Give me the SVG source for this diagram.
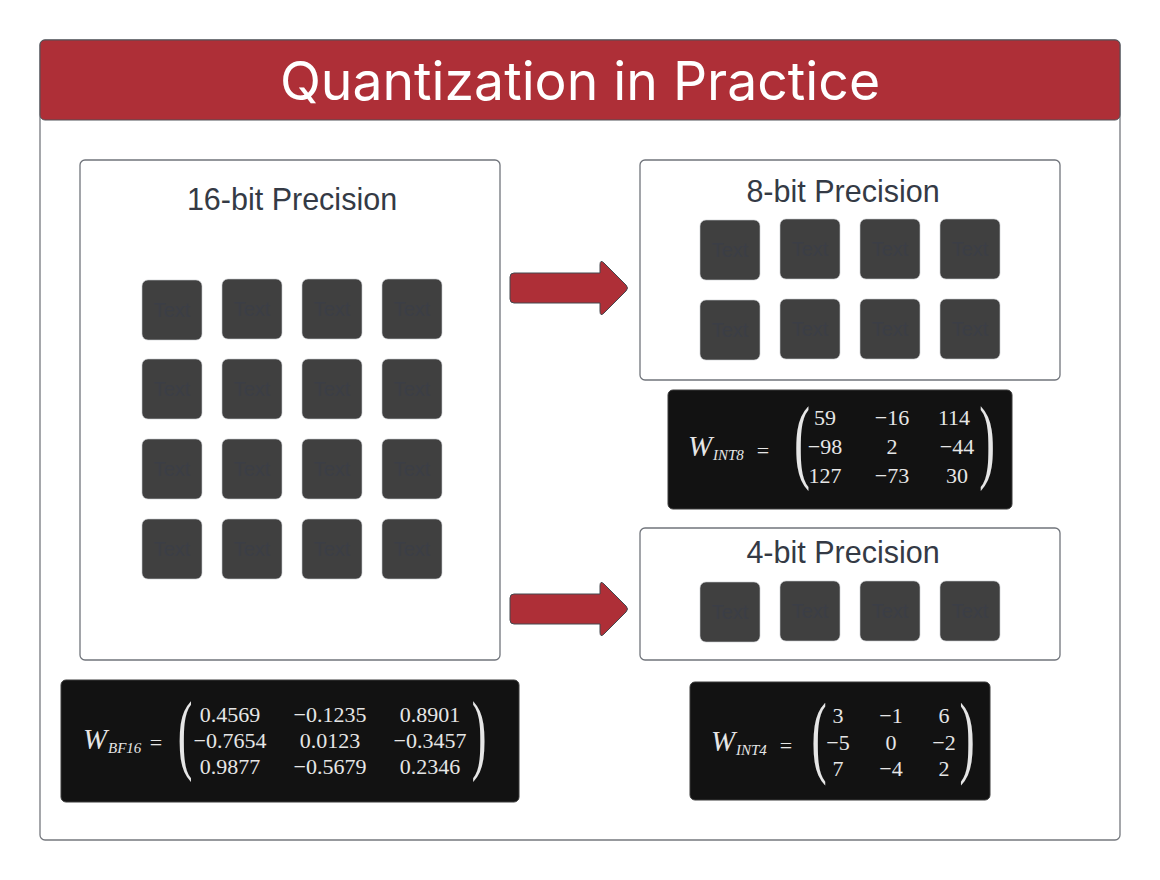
<svg xmlns="http://www.w3.org/2000/svg" width="1160" height="880" viewBox="0 0 1160 880">
<defs>
<style>
.frame{fill:#ffffff;stroke:#75787e;stroke-width:1.3}
.box{fill:#ffffff;stroke:#70747b;stroke-width:1.3}
.sq{fill:#404040;stroke:#c8cacd;stroke-width:0.6}
.sqt{font-family:"Liberation Sans",Arial,sans-serif;font-size:20px;fill:#3b3e46;text-anchor:middle}
.ttl{font-family:"Liberation Sans",Arial,sans-serif;font-size:30.5px;fill:#343a45;text-anchor:middle}
.mat{fill:#121212;stroke:#3a3a3a;stroke-width:1}
.m{font-family:"Liberation Serif","Times New Roman",serif;font-size:22px;fill:#e6e6e6;text-anchor:middle}
.mi{font-family:"Liberation Serif","Times New Roman",serif;font-style:italic;fill:#e6e6e6}
.par{font-family:"Liberation Serif","Times New Roman",serif;fill:#e6e6e6;text-anchor:middle}
.arr{fill:#ae2f37;stroke:#45484e;stroke-width:1}
</style>
<path id="arrowShape" d="M514 273 L600 273 L600 265 Q600 259 604 263 L626 285 Q629 288 626 291 L604 313 Q600 317 600 311 L600 303 L514 303 Q510 303 510 299 L510 277 Q510 273 514 273 Z"/>
</defs>
<rect x="0" y="0" width="1160" height="880" fill="#ffffff"/>
<g id="frame">
<rect class="frame" x="40" y="40" width="1080" height="800" rx="5"/>
<rect x="40" y="40" width="1080" height="80" rx="5" fill="#ae2f37" stroke="#505359" stroke-width="1"/>
<text x="580" y="100" font-family="Inter,'Liberation Sans',sans-serif" font-size="53.5" fill="#ffffff" text-anchor="middle">Quantization in Practice</text>
</g>
<g id="connectors">
<use href="#arrowShape" class="arr"/>
<use href="#arrowShape" class="arr" transform="translate(0,321)"/>
</g>
<g id="node16">
<rect class="box" x="80" y="160" width="420" height="500" rx="5"/>
<text class="ttl" x="292" y="210">16-bit Precision</text>
<g>
<rect class="sq" x="142" y="280" width="60" height="60" rx="6"/><text class="sqt" x="172" y="317">Text</text>
<rect class="sq" x="222" y="279" width="60" height="60" rx="6"/><text class="sqt" x="252" y="316">Text</text>
<rect class="sq" x="302" y="279" width="60" height="60" rx="6"/><text class="sqt" x="332" y="316">Text</text>
<rect class="sq" x="382" y="279" width="60" height="60" rx="6"/><text class="sqt" x="412" y="316">Text</text>
<rect class="sq" x="142" y="359" width="60" height="60" rx="6"/><text class="sqt" x="172" y="396">Text</text>
<rect class="sq" x="222" y="359" width="60" height="60" rx="6"/><text class="sqt" x="252" y="396">Text</text>
<rect class="sq" x="302" y="359" width="60" height="60" rx="6"/><text class="sqt" x="332" y="396">Text</text>
<rect class="sq" x="382" y="359" width="60" height="60" rx="6"/><text class="sqt" x="412" y="396">Text</text>
<rect class="sq" x="142" y="439" width="60" height="60" rx="6"/><text class="sqt" x="172" y="476">Text</text>
<rect class="sq" x="222" y="439" width="60" height="60" rx="6"/><text class="sqt" x="252" y="476">Text</text>
<rect class="sq" x="302" y="439" width="60" height="60" rx="6"/><text class="sqt" x="332" y="476">Text</text>
<rect class="sq" x="382" y="439" width="60" height="60" rx="6"/><text class="sqt" x="412" y="476">Text</text>
<rect class="sq" x="142" y="519" width="60" height="60" rx="6"/><text class="sqt" x="172" y="556">Text</text>
<rect class="sq" x="222" y="519" width="60" height="60" rx="6"/><text class="sqt" x="252" y="556">Text</text>
<rect class="sq" x="302" y="519" width="60" height="60" rx="6"/><text class="sqt" x="332" y="556">Text</text>
<rect class="sq" x="382" y="519" width="60" height="60" rx="6"/><text class="sqt" x="412" y="556">Text</text>
</g>
</g>
<g id="node8">
<rect class="box" x="640" y="160" width="420" height="220" rx="5"/>
<text class="ttl" x="843" y="202">8-bit Precision</text>
<rect class="sq" x="700" y="220" width="60" height="60" rx="6"/><text class="sqt" x="730" y="257">Text</text>
<rect class="sq" x="780" y="219" width="60" height="60" rx="6"/><text class="sqt" x="810" y="256">Text</text>
<rect class="sq" x="860" y="219" width="60" height="60" rx="6"/><text class="sqt" x="890" y="256">Text</text>
<rect class="sq" x="940" y="219" width="60" height="60" rx="6"/><text class="sqt" x="970" y="256">Text</text>
<rect class="sq" x="700" y="300" width="60" height="60" rx="6"/><text class="sqt" x="730" y="337">Text</text>
<rect class="sq" x="780" y="299" width="60" height="60" rx="6"/><text class="sqt" x="810" y="336">Text</text>
<rect class="sq" x="860" y="299" width="60" height="60" rx="6"/><text class="sqt" x="890" y="336">Text</text>
<rect class="sq" x="940" y="299" width="60" height="60" rx="6"/><text class="sqt" x="970" y="336">Text</text>
</g>
<g id="node4">
<rect class="box" x="640" y="528" width="420" height="132" rx="5"/>
<text class="ttl" x="843" y="563">4-bit Precision</text>
<rect class="sq" x="700" y="582" width="60" height="60" rx="6"/><text class="sqt" x="730" y="619">Text</text>
<rect class="sq" x="780" y="581" width="60" height="60" rx="6"/><text class="sqt" x="810" y="618">Text</text>
<rect class="sq" x="860" y="581" width="60" height="60" rx="6"/><text class="sqt" x="890" y="618">Text</text>
<rect class="sq" x="940" y="581" width="60" height="60" rx="6"/><text class="sqt" x="970" y="618">Text</text>
</g>
<g id="matBF16">
<rect class="mat" x="61" y="680" width="458" height="122" rx="5"/>
<text class="mi" x="83" y="749" font-size="29">W</text>
<text class="mi" x="108" y="753" font-size="15">BF16</text>
<text class="m" x="156" y="750">=</text>
<text class="par" font-size="88" transform="translate(185,763) scale(0.5,1)">(</text>
<text class="par" font-size="88" transform="translate(479,763) scale(0.5,1)">)</text>
<text class="m" x="230" y="722">0.4569</text><text class="m" x="330" y="722">−0.1235</text><text class="m" x="430" y="722">0.8901</text>
<text class="m" x="230" y="748">−0.7654</text><text class="m" x="330" y="748">0.0123</text><text class="m" x="430" y="748">−0.3457</text>
<text class="m" x="230" y="774">0.9877</text><text class="m" x="330" y="774">−0.5679</text><text class="m" x="430" y="774">0.2346</text>
</g>
<g id="matINT8">
<rect class="mat" x="668" y="390" width="344" height="119" rx="5"/>
<text class="mi" x="688" y="456" font-size="29">W</text>
<text class="mi" x="713" y="460" font-size="15">INT8</text>
<text class="m" x="763" y="458">=</text>
<text class="par" font-size="94" transform="translate(802,471) scale(0.5,1)">(</text>
<text class="par" font-size="94" transform="translate(987,471) scale(0.5,1)">)</text>
<text class="m" x="825" y="425">59</text><text class="m" x="892" y="425">−16</text><text class="m" x="954" y="425">114</text>
<text class="m" x="825" y="454">−98</text><text class="m" x="892" y="454">2</text><text class="m" x="957" y="454">−44</text>
<text class="m" x="825" y="483">127</text><text class="m" x="892" y="483">−73</text><text class="m" x="957" y="483">30</text>
</g>
<g id="matINT4">
<rect class="mat" x="690" y="682" width="300" height="118" rx="5"/>
<text class="mi" x="711" y="751" font-size="29">W</text>
<text class="mi" x="736" y="755" font-size="15">INT4</text>
<text class="m" x="786" y="753">=</text>
<text class="par" font-size="91" transform="translate(819,766) scale(0.5,1)">(</text>
<text class="par" font-size="91" transform="translate(967,766) scale(0.5,1)">)</text>
<text class="m" x="838" y="723">3</text><text class="m" x="891" y="723">−1</text><text class="m" x="944" y="723">6</text>
<text class="m" x="838" y="750">−5</text><text class="m" x="891" y="750">0</text><text class="m" x="944" y="750">−2</text>
<text class="m" x="838" y="776">7</text><text class="m" x="891" y="776">−4</text><text class="m" x="944" y="776">2</text>
</g>
</svg>
